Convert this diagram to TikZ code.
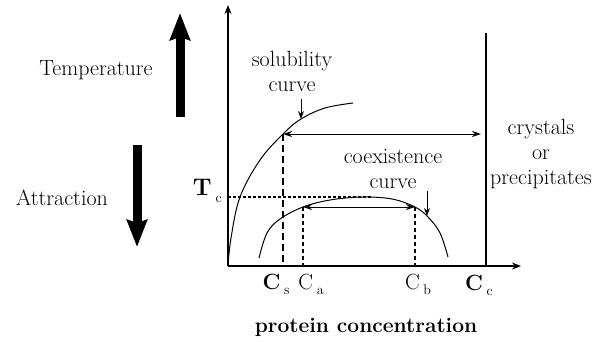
\documentclass[tikz,border=0pt]{standalone}
\usepackage{fontspec}
\usetikzlibrary{arrows.meta}
\newcommand\lblfont{\rmfamily\fontsize{22}{25}\selectfont}
\newcommand\lowsub[1]{\raisebox{-0.6ex}{\fontsize{14}{14}\selectfont #1}}
\begin{document}
\begin{tikzpicture}[x=1pt, y=-1pt, every node/.style={font=\lblfont, inner sep=0pt},
  bigarrow/.style={line width=9pt, -{Stealth[length=27pt,width=20pt,inset=3pt]}},
  axtip/.style={-{Stealth[length=9pt,width=7pt]}},
  tietip/.style={{Stealth[length=9pt,width=6pt]}-{Stealth[length=9pt,width=6pt]}},
  pointer/.style={line width=1pt, -{Stealth[length=8pt,width=6pt]}}]
  \useasboundingbox (0,0) rectangle (596,341);

  % big arrows
  \coordinate (tbot) at (180,117);
  \coordinate (ttop) at (180,13);
  \coordinate (atop) at (137,145);
  \coordinate (abot) at (137,247);
  \draw[bigarrow] (tbot) -- (ttop);
  \draw[bigarrow] (atop) -- (abot);
  \node (temp) at (96,70) {Temperature};
  \node (attr) at (62,198) {Attraction};

  % axes
  \coordinate (O) at (228,266);
  \coordinate (ytop) at (228,5);
  \coordinate (xend) at (521,266);
  \draw[line width=1.8pt, axtip] (O) -- (ytop);
  \draw[line width=2.6pt, axtip] (O) -- (xend);
  \coordinate (cctop) at (486,33);
  \coordinate (ccbot) at (486,266);
  \draw[line width=2pt] (ccbot) -- (cctop);

  % solubility curve
  \draw[line width=1pt] plot[smooth, tension=0.6] coordinates
    {(228,266) (231,238) (240,197) (260,160) (283,134) (301,119) (325,108) (353,103)};

  % coexistence curve
  \draw[line width=1pt] plot[smooth, tension=0.6] coordinates
    {(259,258) (267,233) (280,219) (303,207) (330,200) (362,197) (392,199) (415,207) (428,217) (440,233) (448,257)};

  % tie lines
  \coordinate (cs) at (283,134);
  \coordinate (far) at (481,134);
  \coordinate (ca) at (303,207);
  \coordinate (cb) at (415,207);
  \draw[line width=1pt, tietip] (cs) -- (far);
  \draw[line width=1pt, tietip] (ca) -- (cb);

  % guide lines
  \coordinate (tc) at (228,197);
  \coordinate (tcend) at (372,197);
  \draw[line width=1.2pt, dash pattern=on 2.5pt off 2.5pt] (tc) -- (tcend);
  \draw[line width=1.2pt, dash pattern=on 7pt off 4pt] (cs) -- (cs |- O);
  \draw[line width=1.2pt, dash pattern=on 4pt off 3pt] (ca) -- (ca |- O);
  \draw[line width=1.2pt, dash pattern=on 4pt off 3pt] (cb) -- (cb |- O);

  % curve labels
  \node[align=center] (sol) at (292,71) {solubility\\curve};
  \node[align=center] (coex) at (393,169) {coexistence\\curve};
  \node[align=center] (cryst) at (541,154) {crystals\\or\\precipitates};
  \coordinate (sola) at (301,99);
  \coordinate (solb) at (301,119);
  \coordinate (coxa) at (427,191);
  \coordinate (coxb) at (427,216);
  \draw[pointer] (sola) -- (solb);
  \draw[pointer] (coxa) -- (coxb);

  % axis labels
  \node[anchor=east] (tclbl) at (222,191) {\fontsize{24}{25}\selectfont\textbf{T}\,\lowsub{c}};
  \node[anchor=base] (cslbl) at (276,289) {\textbf{C}\,\lowsub{s}};
  \node[anchor=base] (calbl) at (311,289) {C\,\lowsub{a}};
  \node[anchor=base] (cblbl) at (418,289) {C\,\lowsub{b}};
  \node[anchor=base] (cclbl) at (479,290) {\textbf{C}\,\lowsub{c}};
  \node[anchor=base, font=\rmfamily\fontsize{21}{25}\selectfont\bfseries] (xlbl) at (366,332) {protein concentration};
\end{tikzpicture}
\end{document}
